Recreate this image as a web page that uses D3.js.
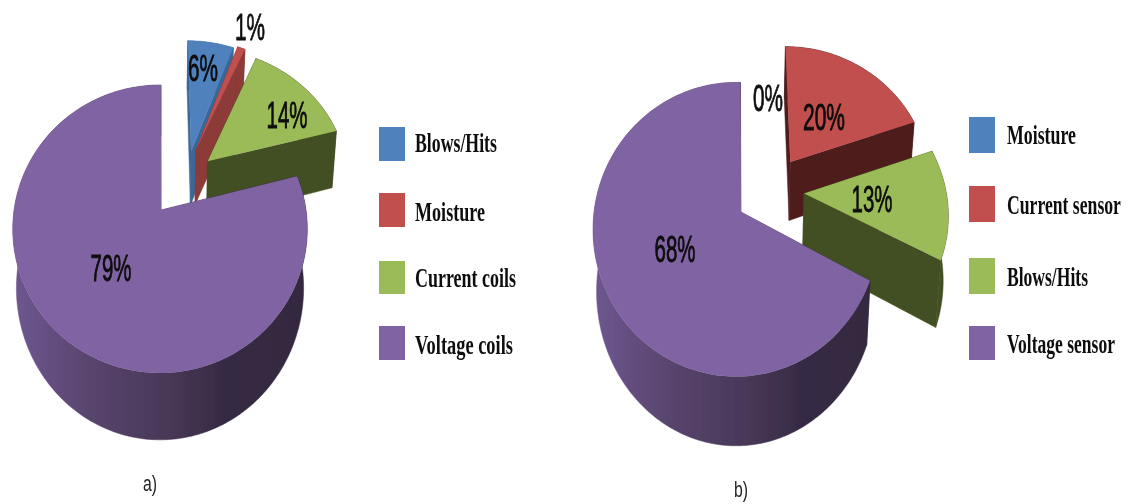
<!DOCTYPE html>
<html><head><meta charset="utf-8">
<script src="https://cdn.jsdelivr.net/npm/d3@7/dist/d3.min.js"></script>
<style>html,body{margin:0;padding:0;background:#fff;overflow:hidden}</style>
</head><body>
<script>
// ---- data ----
const categoriesA = ["Blows/Hits", "Moisture", "Current coils", "Voltage coils"];
const valuesA = [6, 1, 14, 79];
const categoriesB = ["Moisture", "Current sensor", "Blows/Hits", "Voltage sensor"];
const valuesB = [0, 20, 13, 68];
const captions = ["a)", "b)"];

// ---- layout and style ----
const palette = ["#4f81bd", "#c0504d", "#9bbb59", "#8064a2"];
const W = 1129, H = 504;
const configs = [{
  cats: categoriesA, vals: valuesA, caption: captions[0],
  cx: 161, cy: 210, R: 148, A: 141.5, k: 0.132, D: 58,
  // per slice: offset of hub [u, v], slice radius, depth factor
  explode: [[0.215, 0.44], [0.25, 0.45], [0.33, 0.36], [0, 0]],
  radius: [0.98, 0.98, 0.98, 1], depth: [1, 1, 1.06, 1],
  // the big slice: its circle sits slightly off the hub
  bigCx: 160, bigR: 146,
  wall: ["#3b6696", "#8c3a37", "#424f22", null],
  labels: [[203, 68, 30], [250, 27, 30], [287, 115, 41], [111, 268, 41]],
  legX: 379, legTextX: 415,
  legY: [127, 193, 261, 326], legH: [34, 34, 33, 34], legTextY: [143, 212, 278, 345],
  legTextW: [82, 70, 101, 98],
  capPos: [150, 484]
}, {
  cats: categoriesB, vals: valuesB, caption: captions[1],
  cx: 741, cy: 212, R: 149, A: 145, k: 0.119, D: 61,
  explode: [[0, 0], [0.345, 0.36], [0.43, 0.13], [0, 0]],
  radius: [1, 0.96, 0.97, 1], depth: [1, 1, 1.06, 1],
  bigCx: 736, bigR: 142,
  wall: [null, "#4f1f1e", "#424f22", null],
  labels: [[768, 98, 30], [824, 117, 42], [872, 199, 41], [675, 249, 41]],
  legX: 969, legTextX: 1007,
  legY: [117, 186, 258, 326], legH: [36, 36, 36, 34], legTextY: [135, 205, 277, 344],
  legTextW: [69, 114, 81, 108],
  capPos: [741, 490]
}];

const svg = d3.select("body").append("svg").attr("width", W).attr("height", H).style("display", "block");
const defs = svg.append("defs");
defs.append("filter").attr("id", "soft")
  .attr("filterUnits", "userSpaceOnUse").attr("x", 0).attr("y", 0).attr("width", W).attr("height", H)
  .append("feGaussianBlur").attr("stdDeviation", 0.55);
const root = svg.append("g").attr("filter", "url(#soft)");
const line = d3.line();

// real text squeezed to a target width and stretched to a target height
function fitted(str, x, y, targetW, targetSize, font, weight, fill, anchor) {
  const base = 16;
  const t = root.append("text").text(str)
    .attr("font-family", font).attr("font-weight", weight)
    .attr("font-size", base).attr("fill", fill);
  const len = t.node().getComputedTextLength();
  const sx = targetW / len, sy = targetSize / base;
  const x0 = anchor === "middle" ? x - targetW / 2 : x;
  t.attr("transform", `translate(${x0},${y}) scale(${sx},${sy})`);
  return t;
}

configs.forEach((c, ci) => {
  const grad = defs.append("linearGradient").attr("id", "purpleSide" + ci)
    .attr("gradientUnits", "userSpaceOnUse")
    .attr("x1", c.cx - c.R).attr("x2", c.cx + c.R).attr("y1", 0).attr("y2", 0);
  [[0, "#6f5790"], [0.25, "#59456f"], [0.55, "#463655"], [0.72, "#352a44"], [1, "#33283f"]]
    .forEach(s => grad.append("stop").attr("offset", s[0]).attr("stop-color", s[1]));

  const g = root.append("g");
  const arcs = d3.pie().sort(null).startAngle(0).endAngle(2 * Math.PI)(c.vals);
  arcs.forEach((a, i) => {
    if (a.value === 0) return;
    const big = !c.wall[i];
    const cx = big ? c.bigCx : c.cx, R = big ? c.bigR : c.R;
    const proj = (u, v, z) => {
      const s = 1 / (1 + c.k * v);
      return [cx + R * u * s * (1 - 0.025 * z), c.cy - c.A * v * s + c.D * c.depth[i] * s * z];
    };
    const [ou, ov] = c.explode[i];
    const r = c.radius[i];
    const hubU = big ? (c.cx - c.bigCx) / c.bigR : ou;
    const hubV = big ? 0 : ov;
    const wall = c.wall[i] || `url(#purpleSide${ci})`;
    const n = Math.max(4, Math.ceil((a.endAngle - a.startAngle) / 0.02));
    const thetas = d3.range(n + 1).map(j => a.startAngle + (a.endAngle - a.startAngle) * j / n);
    // a rim point is where the ray from the hub at angle t meets the circle
    const rimPoint = (t, z) => {
      const dx = Math.sin(t), dy = Math.cos(t);
      const hx = big ? hubU : 0, hy = 0;
      const hd = hx * dx + hy * dy;
      const s = -hd + Math.sqrt(hd * hd - hx * hx - hy * hy + r * r);
      return proj(hubU + s * dx, hubV + s * dy, z);
    };
    const apex = z => proj(hubU, hubV, z);
    const rim0 = thetas.map(t => rimPoint(t, 0)), rim1 = thetas.map(t => rimPoint(t, 1));
    const faces = [
      [apex(0), rim0[0], rim1[0], apex(1)],
      [apex(0), rim0[n], rim1[n], apex(1)],
      rim0.concat(rim1.slice().reverse())
    ];
    faces.forEach(f => g.append("path").attr("d", line(f) + "Z").attr("fill", wall).attr("stroke", wall).attr("stroke-width", 0.5));
    g.append("path").attr("d", line([apex(0)].concat(rim0)) + "Z").attr("fill", palette[i]);
  });

  // percentage labels
  arcs.forEach((a, i) => {
    const [lx, ly, lw] = c.labels[i];
    fitted(a.value + "%", lx, ly + 13, lw, 37, "'Liberation Sans', Arial, sans-serif", "normal", "#0a0a0a", "middle")
      .attr("stroke", "#0a0a0a").attr("stroke-width", 0.35);
  });

  // legend
  c.cats.forEach((name, i) => {
    root.append("rect").attr("x", c.legX).attr("y", c.legY[i])
      .attr("width", 26).attr("height", c.legH[i]).attr("fill", palette[i]);
    fitted(name, c.legTextX, c.legTextY[i] + 9, c.legTextW[i], 27,
      "'Liberation Serif', 'Times New Roman', serif", "bold", "#111", "start");
  });

  // caption
  fitted(c.caption, c.capPos[0], c.capPos[1] + 7, 14, 22, "'Liberation Sans', Arial, sans-serif", "normal", "#222", "middle");
});
</script>
</body></html>
